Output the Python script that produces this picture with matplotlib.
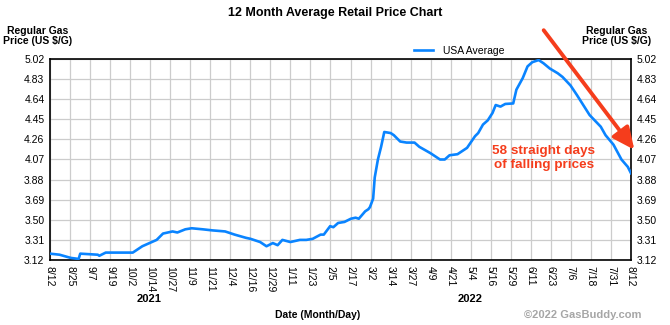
import numpy as np
import matplotlib
matplotlib.use("Agg")
import matplotlib.pyplot as plt

plt.rcParams['font.family'] = ['Liberation Sans', 'DejaVu Sans']

# days since 8/12/2021 and USA average price ($/gal)
days = [0, 6, 13, 18, 19, 30, 31, 35, 52, 58, 64, 67, 71, 77, 80, 85, 89, 96, 102, 110,
        116, 123, 126, 132, 136, 140, 143, 146, 151, 157, 161, 165, 170, 172, 176, 178,
        181, 185, 189, 192, 194, 198, 200, 201, 203, 204, 206, 208, 210, 214, 216, 220,
        224, 229, 232, 239, 245, 248, 251, 256, 262, 267, 269, 272, 275, 278, 280, 283,
        286, 291, 293, 297, 300, 303, 307, 310, 314, 319, 322, 327, 331, 335, 339, 346,
        349, 354, 359, 363, 365]
prices = [3.18, 3.17, 3.14, 3.13, 3.18, 3.17, 3.16, 3.19, 3.19, 3.25, 3.29, 3.31, 3.37,
          3.39, 3.38, 3.41, 3.42, 3.41, 3.40, 3.39, 3.36, 3.33, 3.32, 3.29, 3.25, 3.28,
          3.26, 3.31, 3.29, 3.31, 3.31, 3.32, 3.36, 3.36, 3.44, 3.43, 3.47, 3.48, 3.51,
          3.52, 3.51, 3.58, 3.60, 3.62, 3.70, 3.90, 4.07, 4.19, 4.33, 4.32, 4.30, 4.24,
          4.23, 4.23, 4.19, 4.13, 4.07, 4.07, 4.11, 4.12, 4.18, 4.29, 4.32, 4.40, 4.44,
          4.51, 4.585, 4.57, 4.595, 4.60, 4.73, 4.84, 4.95, 4.99, 5.01, 4.98, 4.93, 4.885,
          4.85, 4.77, 4.68, 4.585, 4.49, 4.38, 4.30, 4.21, 4.07, 4.00, 3.94]

x_labels = ['8/12', '8/25', '9/7', '9/19', '10/2', '10/14', '10/27', '11/9', '11/21',
            '12/4', '12/16', '12/29', '1/11', '1/23', '2/5', '2/17', '3/2', '3/14',
            '3/27', '4/9', '4/21', '5/4', '5/16', '5/29', '6/11', '6/23', '7/6', '7/18',
            '7/31', '8/12']
y_ticks = [3.12, 3.31, 3.50, 3.69, 3.88, 4.07, 4.26, 4.45, 4.64, 4.83, 5.02]

fig = plt.figure(figsize=(6.7, 3.25), dpi=100)
ax = fig.add_axes([50/670, 65/325, 581/670, 201/325])

ax.plot(days, prices, color='#0a84ff', lw=1.9, label='USA Average', zorder=3)

ax.set_xlim(0, 365)
ax.set_ylim(3.12, 5.02)
ax.set_xticks(np.linspace(0, 365, len(x_labels)))
ax.set_xticklabels(x_labels, rotation=-90, fontsize=7.5, va='top')
ax.set_yticks(y_ticks)
ax.set_yticklabels(['%.2f' % v for v in y_ticks], fontsize=7.5)
ax.tick_params(axis='both', length=0, pad=4)
ax.tick_params(axis='y', labelright=True, right=False)
ax.grid(True, color='#cccccc', lw=0.9)
for s in ax.spines.values():
    s.set_color('black')
    s.set_linewidth(1.2)

# year labels under the dates
ax.text(62, -0.195, '2021', transform=ax.get_xaxis_transform(), ha='center', va='center',
        fontsize=8, fontweight='bold')
ax.text(264, -0.195, '2022', transform=ax.get_xaxis_transform(), ha='center', va='center',
        fontsize=8, fontweight='bold')

fig.text(335/670, 1 - 13/325, '12 Month Average Retail Price Chart', ha='center',
         va='center', fontsize=9, fontweight='bold')
fig.text(38/670, 1 - 36/325, 'Regular Gas\nPrice (US $/G)', ha='center', va='center',
         fontsize=7.5, fontweight='bold', linespacing=1.05)
fig.text(617/670, 1 - 36/325, 'Regular Gas\nPrice (US $/G)', ha='center', va='center',
         fontsize=7.5, fontweight='bold', linespacing=1.05)
fig.text(318/670, 1 - 315/325, 'Date (Month/Day)', ha='center', va='center',
         fontsize=7.5, fontweight='bold')
fig.text(583/670, 1 - 315/325, '\u00a92022 GasBuddy.com', ha='center', va='center',
         fontsize=8, color='#a6a6a6', fontweight='bold')

ax.legend(loc='upper center', bbox_to_anchor=(0.705, 1.085), frameon=False, fontsize=7.5,
          handlelength=1.8, handletextpad=1.0, borderaxespad=0)

# annotation arrow and note
fig.add_artist(matplotlib.patches.FancyArrowPatch(
    (542/670, 1 - 28/325), (636/670, 1 - 152/325), transform=fig.transFigure,
    arrowstyle='-|>,head_length=6,head_width=2.8', color='#f53d1c', lw=2.8,
    mutation_scale=2.2))
fig.text(544/670, 1 - 158/325, '58 straight days\nof falling prices', ha='center',
         va='center', fontsize=9.7, fontweight='bold', color='#f53d1c', linespacing=1.15)

fig.savefig('out.png', dpi=100)
